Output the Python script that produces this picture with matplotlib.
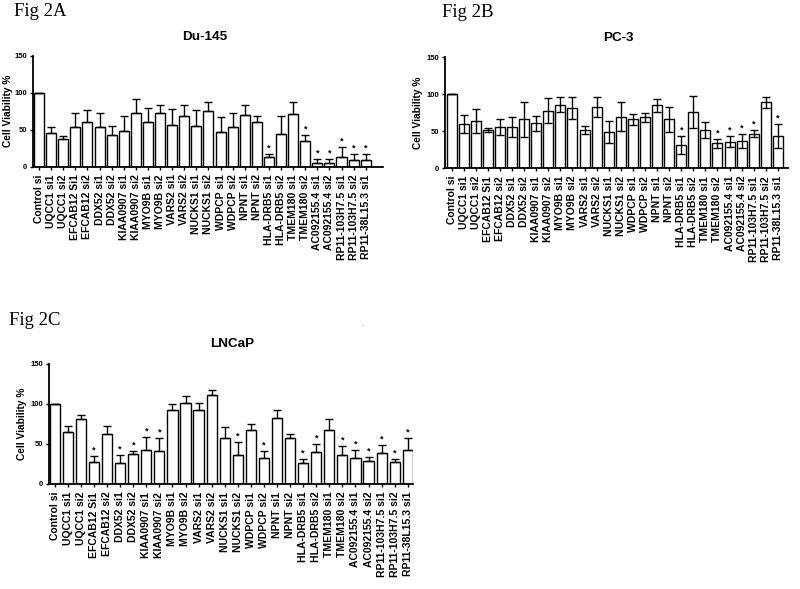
import numpy as np
import matplotlib
matplotlib.use("Agg")
import matplotlib.pyplot as plt

labels = ["Control si", "UQCC1 si1", "UQCC1 si2", "EFCAB12 Si1", "EFCAB12 si2",
          "DDX52 si1", "DDX52 si2", "KIAA0907 si1", "KIAA0907 si2", "MYO9B si1",
          "MYO9B si2", "VARS2 si1", "VARS2 si2", "NUCKS1 si1", "NUCKS1 si2",
          "WDPCP si1", "WDPCP si2", "NPNT si1", "NPNT si2", "HLA-DRB5 si1",
          "HLA-DRB5 si2", "TMEM180 si1", "TMEM180 si2", "AC092155.4 si1",
          "AC092155.4 si2", "RP11-103H7.5 si1", "RP11-103H7.5 si2", "RP11-38L15.3 si1"]

# Du-145
du_vals = [100, 45, 37, 53, 60, 54, 43, 48, 73, 61, 72, 57, 68, 55, 75, 47, 53, 70, 60,
           13, 44, 71, 35, 5, 5, 13, 9, 9]
du_err = [0, 8, 4, 20, 17, 19, 12, 20, 19, 18, 11, 21, 15, 21, 12, 20, 19, 13, 9,
          4, 24, 17, 8, 6, 6, 13, 8, 8]
du_sig = [0]*19 + [1, 0, 0, 1, 1, 1, 1, 1, 1]

# PC-3
pc_vals = [100, 60, 64, 52, 56, 56, 66, 61, 78, 86, 82, 52, 83, 49, 70, 66, 69, 85, 66,
           32, 76, 52, 34, 36, 37, 47, 89, 44]
pc_err = [0, 12, 16, 3, 11, 14, 24, 10, 17, 10, 15, 5, 13, 15, 19, 8, 6, 9, 17,
          12, 22, 11, 6, 7, 10, 5, 8, 16]
pc_sig = [0]*19 + [1, 0, 0, 1, 1, 1, 1, 0, 1]

# LNCaP
ln_vals = [100, 65, 81, 27, 62, 26, 37, 43, 41, 93, 101, 93, 111, 57, 36, 68, 32, 83, 58,
           26, 40, 68, 36, 33, 29, 39, 27, 43]
ln_err = [0, 7, 5, 8, 11, 10, 4, 16, 17, 7, 9, 8, 6, 14, 17, 7, 9, 10, 5,
          5, 10, 13, 11, 9, 5, 10, 4, 14]
ln_sig = [0, 0, 0, 1, 0, 1, 1, 1, 1, 0, 0, 0, 0, 0, 1, 0, 1, 0, 0,
          1, 1, 0, 1, 1, 1, 1, 1, 1]

W, H = 800, 589
fig = plt.figure(figsize=(8, 5.89), dpi=100)
fig.patch.set_facecolor("white")

SANS = ["Liberation Sans", "DejaVu Sans"]
SERIF = ["Liberation Serif", "DejaVu Serif"]


def fx(x):
    return x / W


def fy(y):
    return 1 - y / H


def panel(px_left, px_right, px_top, px_bottom, xlim, width, vals, errs, sig,
          symmetric, title, title_xy, ylab_xy, fig_label, fig_label_xy):
    ax = fig.add_axes([fx(px_left), fy(px_bottom), (px_right - px_left) / W,
                       (px_bottom - px_top) / H])
    x = np.arange(len(vals))
    ax.bar(x, vals, width=width, color="white", edgecolor="black", linewidth=1.0, zorder=2)
    e = np.array(errs, dtype=float)
    if symmetric:
        yerr = [e, e]
    else:
        yerr = [np.zeros_like(e), e]
    ax.errorbar(x, vals, yerr=yerr, fmt="none", ecolor="black", elinewidth=1.0,
                capsize=3, capthick=1.0, zorder=3)
    for xi, v, er, s in zip(x, vals, errs, sig):
        if s:
            ax.annotate("*", (xi, v + er), xytext=(0, 2.5), textcoords="offset points",
                        ha="center", va="baseline", fontsize=6.5, fontweight="bold",
                        family=SANS, color="black")
    ax.set_xlim(*xlim)
    ax.set_ylim(0, 150)
    ax.set_yticks([0, 50, 100, 150])
    ax.set_xticks(x)
    ax.set_xticklabels(labels, rotation=90, fontsize=7.5, fontweight="bold", family=SANS)
    for lab in ax.get_yticklabels():
        lab.set_fontsize(5.5)
        lab.set_fontweight("bold")
        lab.set_family(SANS)
    ax.tick_params(axis="both", direction="out", length=2.5, width=1.0, pad=1.5,
                   colors="black")
    ax.tick_params(axis="x", pad=3)
    for sp in ["top", "right"]:
        ax.spines[sp].set_visible(False)
    for sp in ["left", "bottom"]:
        ax.spines[sp].set_linewidth(1.3)
    ax.set_facecolor("none")
    fig.text(fx(title_xy[0]), fy(title_xy[1]), title, ha="center", va="center",
             fontsize=9.7, fontweight="bold", family=SANS)
    fig.text(fx(ylab_xy[0]), fy(ylab_xy[1]), "Cell Viability %", ha="center", va="center",
             rotation=90, fontsize=7.3, fontweight="bold", family=SANS)
    fig.text(fx(fig_label_xy[0]), fy(fig_label_xy[1]), fig_label, ha="left",
             va="baseline", fontsize=13.5, family=SERIF)
    return ax


panel(33, 383, 55.7, 166.7, (-0.5, 28.43), 0.83, du_vals, du_err, du_sig, False,
      "Du-145", (205, 37), (8, 111), "Fig 2A", (14, 16.5))
panel(445, 788, 57.3, 168.3, (-0.55, 27.84), 0.83, pc_vals, pc_err, pc_sig, True,
      "PC-3", (618, 38), (418, 113), "Fig 2B", (441.5, 17))
panel(49, 413, 364, 484, (-0.44, 27.4), 0.78, ln_vals, ln_err, ln_sig, False,
      "LNCaP", (232, 344), (22, 424), "Fig 2C", (9.3, 325))

fig.text(fx(362), fy(324), ".", color="#5050c0", fontsize=5, ha="center", va="center")

fig.savefig("out.png", dpi=100, facecolor="white")
